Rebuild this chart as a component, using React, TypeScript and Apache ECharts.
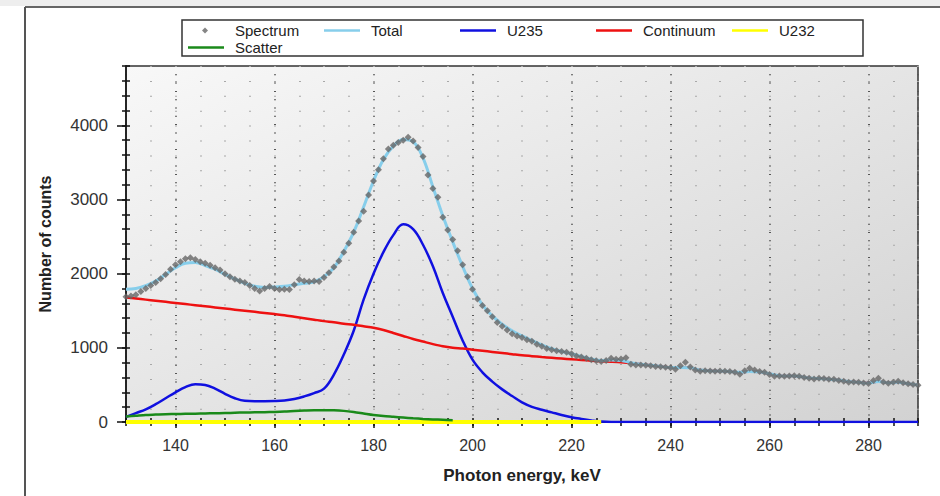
import React, { useEffect, useRef } from "react";
import * as echarts from "echarts";

// Measured spectrum: one channel per keV, starting at 130 keV
const SPECTRUM_START_KEV = 130;
const SPECTRUM_STEP_KEV = 1;
const spectrumCounts = [
  1690, 1700, 1715, 1760, 1800, 1840, 1880, 1930, 1990, 2060,
  2120, 2160, 2200, 2215, 2190, 2160, 2140, 2115, 2080, 2050,
  2000, 1960, 1925, 1900, 1880, 1840, 1800, 1765, 1800, 1826,
  1800, 1785, 1790, 1785, 1850, 1920, 1900, 1893, 1900, 1893,
  1950, 2013, 2090, 2170, 2290, 2410, 2560, 2710, 2840, 3060,
  3250, 3400, 3550, 3680, 3730, 3770, 3800, 3840, 3790, 3700,
  3580, 3330, 3150, 3030, 2760, 2590, 2460, 2310, 2120, 1960,
  1790, 1660, 1570, 1500, 1420, 1340, 1290, 1240, 1190, 1160,
  1140, 1110, 1090, 1050, 1020, 990, 975, 960, 950, 940,
  920, 890, 875, 860, 840, 825, 815, 830, 860, 845,
  850, 865, 780, 770, 770, 765, 760, 750, 745, 738,
  730, 712, 760, 805, 740, 700, 684, 690, 688, 684,
  686, 684, 680, 670, 645, 690, 724, 700, 680, 671,
  640, 617, 620, 618, 620, 625, 617, 600, 590, 580,
  590, 585, 578, 575, 560, 550, 537, 540, 535, 525,
  520, 560, 590, 540, 523, 535, 550, 530, 515, 505,
  497,
];

// Fitted components: every 2 keV, starting at 130 keV
const MODEL_START_KEV = 130;
const MODEL_STEP_KEV = 2;
const totalFit = [
  1790, 1800, 1840, 1900, 1990, 2080, 2140, 2150, 2110, 2060,
  1990, 1930, 1870, 1830, 1815, 1820, 1830, 1850, 1870, 1890,
  1960, 2080, 2300, 2560, 2900, 3250, 3540, 3720, 3810, 3780,
  3560, 3170, 2780, 2430, 2100, 1800, 1580, 1430, 1320, 1230,
  1160, 1100, 1040, 990, 950, 920, 885, 850, 830, 835,
  830, 800, 780, 765, 750, 735, 735, 730, 700, 690,
  685, 680, 670, 680, 675, 650, 625, 620, 615, 595,
  585, 578, 565, 545, 535, 525, 545, 530, 535, 515,
  500,
];
const continuum = [
  1680, 1665, 1650, 1635, 1620, 1605, 1590, 1575, 1560, 1545,
  1530, 1515, 1500, 1485, 1470, 1455, 1440, 1420, 1400, 1380,
  1360, 1345, 1325, 1310, 1290, 1270, 1240, 1200, 1160, 1120,
  1085, 1050, 1020, 1000, 990, 975, 960, 945, 930, 915,
  900, 888, 876, 866, 856, 846, 836, 826, 818, 812,
  805, 795, 780, 765, 750, 735, 735, 730, 700, 690,
  685, 680, 670, 680, 675, 650, 625, 620, 615, 595,
  585, 578, 565, 545, 535, 525, 545, 530, 535, 515,
  500,
];
const u235 = [
  70, 120, 170, 240, 320, 400, 470, 510, 500, 450,
  380, 320, 285, 280, 280, 282, 290, 310, 345, 390,
  450, 640, 910, 1230, 1650, 2000, 2290, 2520, 2665, 2600,
  2390, 2100, 1740, 1420, 1100, 840, 670, 545, 440, 350,
  265, 205, 165, 130, 95, 65, 42, 22, 6, 0,
  0, 0, 0, 0, 0, 0, 0, 0, 0, 0,
  0, 0, 0, 0, 0, 0, 0, 0, 0, 0,
  0, 0, 0, 0, 0, 0, 0, 0, 0, 0,
  0,
];
const u232 = [
  0, 0, 0, 0, 0, 0, 0, 0, 0, 0,
  0, 0, 0, 0, 0, 0, 0, 0, 0, 0,
  0, 0, 0, 0, 0, 0, 0, 0, 0, 0,
  0, 0, 0, 0, 0, 0, 0, 0, 0, 0,
  0, 0, 0, 0, 0, 0, 0, 0, 0,
];
const scatter = [
  75, 85, 95, 100, 105, 107, 110, 112, 115, 118,
  120, 125, 128, 130, 132, 135, 140, 148, 155, 160,
  160, 158, 150, 135, 115, 95, 80, 70, 60, 50,
  42, 35, 30, 25,
];

const legendNames = ["Spectrum", "Total", "U235", "Continuum", "U232", "Scatter"];
const xTitle = "Photon energy, keV";
const yTitle = "Number of counts";

const toPairs = (vals: number[], start: number, step: number) =>
  vals.map((v, i) => [start + i * step, v]);

const FONT = '"Liberation Sans", Arial, Helvetica, sans-serif';
const DIAMOND_ICON = "path://M0,0M36,0M36,12M0,12M14,6L17,3L20,6L17,9Z";
const LINE_ICON = "path://M0,0M36,0M36,12M0,12M0,4.8L36,4.8L36,7.2L0,7.2Z";

export default function App() {
  const ref = useRef<HTMLDivElement>(null);

  useEffect(() => {
    if (!ref.current) return;
    const chart = echarts.init(ref.current, undefined, { renderer: "svg" });

    const tickStyle = { color: "#111", width: 1.5 };
    const baseX = { type: "value", min: 130, max: 290, position: "bottom" };
    const baseY = { type: "value", min: 0, max: 4800, position: "left" };

    const option: any = {
      animation: false,
      backgroundColor: "#ffffff",
      textStyle: { fontFamily: FONT },
      graphic: [
        { type: "rect", shape: { x: 0, y: 0, width: 940, height: 6 }, style: { fill: "#eeeeee" }, silent: true },
        { type: "line", shape: { x1: 25, y1: 7, x2: 940, y2: 7 }, style: { stroke: "#333", lineWidth: 1.5 }, silent: true },
        { type: "line", shape: { x1: 25, y1: 7, x2: 25, y2: 496 }, style: { stroke: "#555", lineWidth: 2 }, silent: true },
        { type: "rect", shape: { x: 182, y: 20, width: 681, height: 36 }, style: { fill: "none", stroke: "#333", lineWidth: 1.5 }, silent: true },
      ],
      legend: {
        data: legendNames.map((n, i) => ({ name: n, icon: i === 0 ? DIAMOND_ICON : LINE_ICON })),
        left: 188,
        top: 23,
        width: 690,
        padding: 0,
        itemGap: 2,
        itemWidth: 36,
        itemHeight: 12,
        formatter: (name: string) => `{t|${name}}`,
        textStyle: {
          fontSize: 15,
          color: "#222",
          lineHeight: 15,
          fontFamily: FONT,
          rich: {
            t: { width: 87, fontSize: 15, lineHeight: 15, padding: [0, 0, 0, 6], color: "#222", fontFamily: FONT },
          },
        },
      },
      grid: {
        left: 126,
        right: 22,
        top: 66,
        bottom: 74,
        show: true,
        outerBoundsMode: "none",
        backgroundColor: new echarts.graphic.LinearGradient(0, 0, 1, 1, [
          { offset: 0, color: "#f8f8f8" },
          { offset: 1, color: "#d2d2d2" },
        ]),
        borderColor: "#333",
        borderWidth: 1.5,
      },
      xAxis: [
        {
          ...baseX,
          splitNumber: 8,
          axisLine: { show: true, onZero: false, lineStyle: { color: "#111", width: 1.5 } },
          axisTick: { show: true, length: 6, lineStyle: tickStyle },
          axisLabel: { showMinLabel: false, showMaxLabel: false, fontSize: 16, color: "#333", margin: 15, fontFamily: FONT },
          splitLine: { show: true, lineStyle: { color: "#555", width: 2, type: [1, 7.3] } },
          name: xTitle,
          nameLocation: "middle",
          nameGap: 45,
          nameTextStyle: { fontSize: 17, fontWeight: "bold", color: "#222", fontFamily: FONT },
        },
        {
          ...baseX,
          interval: 5,
          axisLine: { show: false },
          axisTick: { show: true, inside: true, length: 4, lineStyle: tickStyle },
          axisLabel: { show: false },
          splitLine: { show: true, lineStyle: { color: "#a8a8a8", width: 2, type: [1, 13.9] } },
        },
        {
          ...baseX,
          interval: 5,
          axisLine: { show: false },
          axisTick: { show: true, inside: false, length: 4, lineStyle: tickStyle },
          axisLabel: { show: false },
          splitLine: { show: false },
        },
      ],
      yAxis: [
        {
          ...baseY,
          interval: 1000,
          axisLine: { show: true, lineStyle: { color: "#111", width: 1.5 } },
          axisTick: { show: true, length: 9, lineStyle: tickStyle },
          axisLabel: {
            showMaxLabel: false,
            fontSize: 17,
            color: "#333",
            margin: 18,
            fontFamily: FONT,
            formatter: (v: number) => String(v),
          },
          splitLine: { show: false },
          name: yTitle,
          nameLocation: "middle",
          nameGap: 73,
          nameTextStyle: { fontSize: 16, fontWeight: "bold", color: "#222", fontFamily: FONT },
        },
        {
          ...baseY,
          interval: 200,
          axisLine: { show: false },
          axisTick: { show: true, inside: true, length: 4, lineStyle: tickStyle },
          axisLabel: { show: false },
          splitLine: { show: false },
        },
        {
          ...baseY,
          interval: 200,
          axisLine: { show: false },
          axisTick: { show: true, inside: false, length: 4, lineStyle: tickStyle },
          axisLabel: { show: false },
          splitLine: { show: false },
        },
      ],
      series: [
        {
          name: "U235",
          type: "line",
          symbol: "none",
          smooth: 0.4,
          data: toPairs(u235, MODEL_START_KEV, MODEL_STEP_KEV),
          lineStyle: { color: "#1010e0", width: 2.5 },
          itemStyle: { color: "#1010e0" },
          z: 2,
        },
        {
          name: "Continuum",
          type: "line",
          symbol: "none",
          smooth: 0.3,
          data: toPairs(continuum, MODEL_START_KEV, MODEL_STEP_KEV),
          lineStyle: { color: "#ee1111", width: 2.5 },
          itemStyle: { color: "#ee1111" },
          z: 3,
        },
        {
          name: "U232",
          type: "line",
          symbol: "none",
          data: toPairs(u232, MODEL_START_KEV, MODEL_STEP_KEV),
          lineStyle: { color: "#ffff00", width: 4 },
          itemStyle: { color: "#ffff00" },
          z: 4,
        },
        {
          name: "Scatter",
          type: "line",
          symbol: "none",
          smooth: 0.3,
          data: toPairs(scatter, MODEL_START_KEV, MODEL_STEP_KEV),
          lineStyle: { color: "#1a8a1a", width: 2.5 },
          itemStyle: { color: "#1a8a1a" },
          z: 5,
        },
        {
          name: "Total",
          type: "line",
          symbol: "none",
          smooth: 0.4,
          data: toPairs(totalFit, MODEL_START_KEV, MODEL_STEP_KEV),
          lineStyle: { color: "#87ceeb", width: 3 },
          itemStyle: { color: "#87ceeb" },
          z: 6,
        },
        {
          name: "Spectrum",
          type: "scatter",
          symbol: "diamond",
          symbolSize: 7,
          data: toPairs(spectrumCounts, SPECTRUM_START_KEV, SPECTRUM_STEP_KEV),
          itemStyle: { color: "#666666" },
          z: 7,
        },
      ],
    };

    chart.setOption(option);
    return () => chart.dispose();
  }, []);

  return (
    <div
      ref={ref}
      style={{ position: "absolute", left: 0, top: 0, width: 940, height: 496 }}
    />
  );
}
